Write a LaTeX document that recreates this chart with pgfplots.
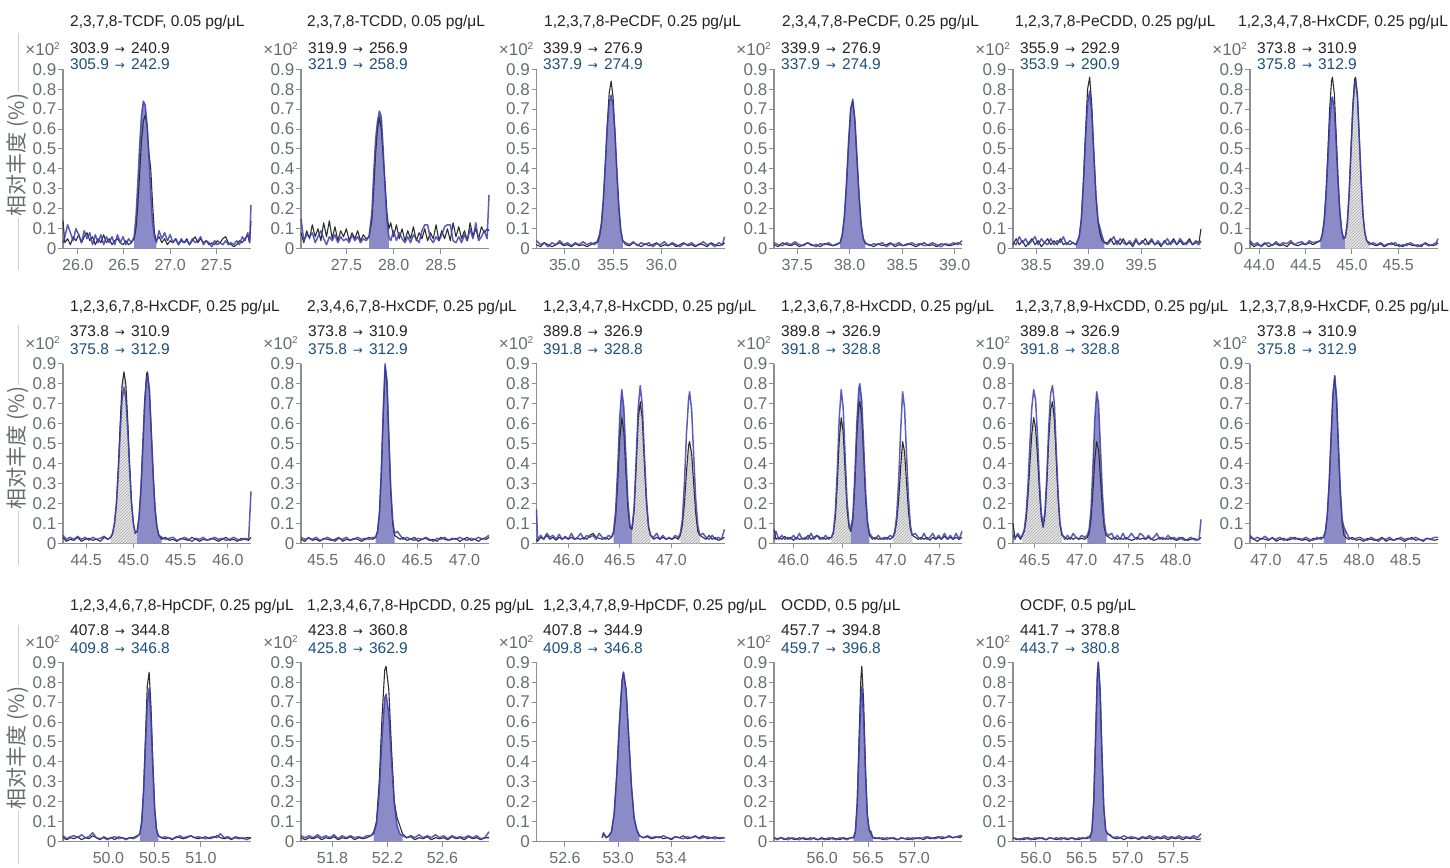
\documentclass[border=0pt]{standalone}
\usepackage{fontspec}
\setmainfont{Liberation Sans}
\newfontfamily\cjk{Noto Sans CJK SC}
\newfontfamily\arwfont{DejaVu Sans}
\usepackage{pgfplots}
\pgfplotsset{compat=1.18}
\usepackage{pgfplotstable}
\usetikzlibrary{patterns}
\definecolor{axgray}{HTML}{8C9096}
\definecolor{labgray}{HTML}{686C71}
\definecolor{tblue}{HTML}{1B4F7C}
\definecolor{tblack}{HTML}{222222}
\definecolor{bline}{HTML}{3F3FAE}
\definecolor{kline}{HTML}{2E2E2E}
\definecolor{pfill}{HTML}{8B8BC8}
\definecolor{hbg}{HTML}{E8E8E8}
\definecolor{hline}{HTML}{A8A8A8}
\definecolor{sepgray}{HTML}{CFCFCF}

\pgfplotsset{
  chrom/.style={
    scale only axis, width=188pt, height=179.5pt, anchor=south west,
    ymin=0, ymax=0.9,
    ytick={0,0.1,0.2,0.3,0.4,0.5,0.6,0.7,0.8,0.9},
    yticklabels={0,0.1,0.2,0.3,0.4,0.5,0.6,0.7,0.8,0.9},
    axis x line=bottom, axis y line=left,
    axis line style={-, axgray, line width=1.2pt},
    xtick pos=bottom, ytick pos=left,
    tick style={axgray, line width=1pt},
    major tick length=5pt,
    tick align=outside,
    clip=false,
    yticklabel style={font=\fontsize{17}{17}\selectfont, text=labgray, inner sep=1.5pt},
    xticklabel style={font=\fontsize{16}{16}\selectfont, text=labgray, inner sep=5.5pt},
  },
  kpl/.style={kline, line width=1.1pt, line join=round},
  bpl/.style={bline, line width=1.5pt, line join=round, opacity=0.85},
  pf/.style={fill=pfill, draw=none},
  hb/.style={fill=hbg, draw=none},
  hp/.style={pattern=north east lines, pattern color=hline, draw=none},
}

\newcommand\arr{\hspace{6pt}{\arwfont\fontsize{12}{12}\selectfont →}\hspace{6pt}}
\newcommand\ptitle[3]{\node[anchor=base west, inner sep=0pt, text=tblack, font=\fontsize{15.5}{15.5}\selectfont] at (#1pt,-#2pt) {#3};}
\newcommand\ptrans[5]{%
  \node[anchor=base west, inner sep=0pt, text=tblack, font=\fontsize{15.5}{15.5}\selectfont] at (#1pt,-#2pt) {#4};
  \node[anchor=base west, inner sep=0pt, text=tblue, font=\fontsize{15.5}{15.5}\selectfont] at (#1pt,-#3pt) {#5};}
\newcommand\pexp[2]{\node[anchor=base east, inner sep=0pt, text=labgray, font=\fontsize{17}{17}\selectfont] at (#1pt,-#2pt) {×10\raisebox{5.5pt}{\fontsize{10}{10}\selectfont 2}};}
\newcommand\ylab[1]{\node[rotate=90, fill=white, inner sep=2pt, text=labgray, font=\cjk\fontsize{21}{21}\selectfont] at (17.5pt,-#1pt) {相对丰度 (\%)};}

% ---------------- data: t = retention time (min), k = black trace, b = blue trace
\pgfplotstableread[row sep=\\]{
t k b\\
25.84 0.14 0.03\\ 25.86 0.03 0.06\\ 25.89 0.05 0.12\\ 25.92 0.02 0.08\\ 25.95 0.06 0.04\\
25.98 0.04 0.10\\ 26.01 0.07 0.07\\ 26.04 0.03 0.03\\ 26.07 0.06 0.09\\ 26.10 0.08 0.05\\
26.13 0.04 0.08\\ 26.16 0.06 0.02\\ 26.19 0.02 0.07\\ 26.22 0.05 0.03\\ 26.25 0.03 0.07\\
26.28 0.07 0.02\\ 26.31 0.03 0.06\\ 26.34 0.05 0.03\\ 26.37 0.02 0.06\\ 26.40 0.04 0.02\\
26.43 0.05 0.07\\ 26.46 0.03 0.03\\ 26.49 0.02 0.06\\ 26.52 0.04 0.02\\ 26.55 0.02 0.05\\
26.58 0.03 0.03\\ 26.61 0.05 0.06\\ 26.63 0.10 0.16\\ 26.65 0.22 0.33\\ 26.67 0.38 0.52\\
26.69 0.54 0.67\\ 26.71 0.64 0.74\\ 26.73 0.67 0.72\\ 26.75 0.62 0.62\\ 26.77 0.48 0.46\\
26.79 0.40 0.28\\ 26.81 0.22 0.13\\ 26.83 0.08 0.06\\ 26.85 0.04 0.03\\ 26.88 0.06 0.09\\
26.91 0.03 0.05\\ 26.94 0.05 0.08\\ 26.97 0.02 0.04\\ 27.00 0.04 0.07\\ 27.03 0.03 0.03\\
27.06 0.05 0.05\\ 27.09 0.02 0.02\\ 27.12 0.04 0.05\\ 27.15 0.03 0.03\\ 27.18 0.05 0.04\\
27.21 0.02 0.02\\ 27.24 0.04 0.05\\ 27.27 0.06 0.03\\ 27.30 0.03 0.04\\ 27.33 0.05 0.06\\
27.36 0.03 0.02\\ 27.39 0.04 0.04\\ 27.42 0.02 0.03\\ 27.45 0.03 0.01\\ 27.48 0.02 0.04\\
27.51 0.04 0.02\\ 27.54 0.03 0.03\\ 27.57 0.05 0.02\\ 27.60 0.06 0.04\\ 27.63 0.03 0.02\\
27.66 0.02 0.03\\ 27.69 0.01 0.02\\ 27.72 0.02 0.04\\ 27.75 0.04 0.02\\ 27.78 0.03 0.06\\
27.81 0.05 0.04\\ 27.84 0.07 0.08\\ 27.86 0.03 0.03\\ 27.875 0.14 0.22\\
}\tA
\pgfplotstableread[row sep=\\]{
t k b\\
27.02 0.08 0.15\\ 27.05 0.03 0.04\\ 27.08 0.09 0.07\\ 27.11 0.05 0.06\\ 27.14 0.12 0.08\\
27.17 0.06 0.03\\ 27.20 0.10 0.06\\ 27.23 0.04 0.09\\ 27.26 0.13 0.05\\ 27.29 0.06 0.02\\
27.32 0.14 0.06\\ 27.35 0.05 0.04\\ 27.38 0.11 0.07\\ 27.41 0.04 0.03\\ 27.44 0.09 0.06\\
27.47 0.06 0.04\\ 27.50 0.10 0.05\\ 27.53 0.04 0.03\\ 27.56 0.08 0.07\\ 27.59 0.05 0.04\\
27.62 0.09 0.06\\ 27.65 0.04 0.03\\ 27.68 0.07 0.05\\ 27.71 0.05 0.04\\ 27.74 0.06 0.06\\
27.77 0.14 0.18\\ 27.79 0.30 0.38\\ 27.81 0.48 0.55\\ 27.83 0.60 0.64\\ 27.85 0.66 0.69\\
27.87 0.60 0.66\\ 27.89 0.46 0.50\\ 27.91 0.33 0.30\\ 27.93 0.18 0.14\\ 27.95 0.10 0.06\\
27.97 0.13 0.04\\ 28.00 0.06 0.09\\ 28.03 0.12 0.04\\ 28.06 0.05 0.08\\ 28.09 0.10 0.05\\
28.12 0.04 0.03\\ 28.15 0.09 0.06\\ 28.18 0.05 0.03\\ 28.21 0.11 0.07\\ 28.24 0.04 0.05\\
28.27 0.08 0.03\\ 28.30 0.05 0.09\\ 28.33 0.10 0.12\\ 28.36 0.04 0.12\\ 28.39 0.08 0.05\\
28.42 0.05 0.03\\ 28.45 0.12 0.06\\ 28.48 0.04 0.04\\ 28.51 0.09 0.07\\ 28.54 0.05 0.11\\
28.57 0.10 0.12\\ 28.60 0.04 0.12\\ 28.63 0.13 0.04\\ 28.66 0.06 0.03\\ 28.69 0.11 0.06\\
28.72 0.05 0.03\\ 28.75 0.09 0.07\\ 28.78 0.04 0.04\\ 28.81 0.13 0.10\\ 28.84 0.06 0.05\\
28.87 0.10 0.13\\ 28.90 0.05 0.04\\ 28.93 0.11 0.06\\ 28.96 0.08 0.09\\ 28.99 0.10 0.05\\
29.01 0.09 0.27\\
}\tB
\pgfplotstableread[row sep=\\]{
t k b\\
34.71 0.02 0.04\\ 34.75 0.01 0.02\\ 34.79 0.03 0.03\\ 34.83 0.02 0.01\\ 34.87 0.01 0.03\\
34.91 0.02 0.02\\ 34.95 0.03 0.04\\ 34.99 0.015 0.02\\ 35.03 0.02 0.03\\ 35.07 0.01 0.015\\
35.11 0.025 0.03\\ 35.15 0.015 0.02\\ 35.19 0.02 0.035\\ 35.23 0.01 0.02\\ 35.27 0.02 0.03\\
35.31 0.03 0.02\\ 35.34 0.03 0.04\\ 35.36 0.06 0.07\\ 35.38 0.12 0.13\\ 35.40 0.24 0.25\\
35.42 0.42 0.43\\ 35.44 0.62 0.61\\ 35.46 0.78 0.73\\ 35.48 0.84 0.77\\ 35.50 0.76 0.72\\
35.52 0.58 0.58\\ 35.54 0.38 0.38\\ 35.56 0.20 0.21\\ 35.58 0.09 0.09\\ 35.60 0.04 0.04\\
35.63 0.02 0.03\\ 35.67 0.015 0.02\\ 35.71 0.03 0.035\\ 35.75 0.02 0.015\\ 35.79 0.01 0.03\\
35.83 0.025 0.02\\ 35.87 0.015 0.03\\ 35.91 0.02 0.01\\ 35.95 0.03 0.025\\ 35.99 0.01 0.02\\
36.03 0.02 0.035\\ 36.07 0.015 0.015\\ 36.11 0.025 0.03\\ 36.15 0.01 0.02\\ 36.19 0.02 0.01\\
36.23 0.03 0.025\\ 36.27 0.015 0.02\\ 36.31 0.02 0.03\\ 36.35 0.01 0.015\\ 36.39 0.025 0.02\\
36.43 0.02 0.035\\ 36.47 0.01 0.02\\ 36.51 0.03 0.025\\ 36.55 0.02 0.01\\ 36.59 0.015 0.03\\
36.63 0.02 0.02\\ 36.65 0.03 0.06\\
}\tC
\pgfplotstableread[row sep=\\]{
t k b\\
37.28 0.02 0.03\\ 37.32 0.01 0.02\\ 37.36 0.03 0.015\\ 37.40 0.02 0.03\\ 37.44 0.015 0.02\\
37.48 0.025 0.035\\ 37.52 0.01 0.02\\ 37.56 0.02 0.015\\ 37.60 0.03 0.03\\ 37.64 0.015 0.02\\
37.68 0.02 0.01\\ 37.72 0.01 0.025\\ 37.76 0.025 0.02\\ 37.80 0.02 0.03\\ 37.84 0.015 0.015\\
37.88 0.02 0.025\\ 37.91 0.03 0.03\\ 37.93 0.07 0.07\\ 37.95 0.16 0.16\\ 37.97 0.32 0.33\\
37.99 0.52 0.54\\ 38.01 0.70 0.70\\ 38.03 0.74 0.75\\ 38.05 0.64 0.65\\ 38.07 0.45 0.46\\
38.09 0.26 0.27\\ 38.11 0.12 0.12\\ 38.13 0.05 0.05\\ 38.15 0.025 0.03\\ 38.19 0.02 0.015\\
38.23 0.01 0.025\\ 38.27 0.025 0.02\\ 38.31 0.015 0.03\\ 38.35 0.02 0.01\\ 38.39 0.03 0.025\\
38.43 0.01 0.02\\ 38.47 0.02 0.03\\ 38.51 0.015 0.015\\ 38.55 0.025 0.02\\ 38.59 0.02 0.03\\
38.63 0.01 0.02\\ 38.67 0.02 0.025\\ 38.71 0.03 0.015\\ 38.75 0.015 0.02\\ 38.79 0.02 0.03\\
38.83 0.01 0.02\\ 38.87 0.025 0.01\\ 38.91 0.02 0.025\\ 38.95 0.015 0.02\\ 38.99 0.02 0.03\\
39.03 0.03 0.02\\ 39.07 0.02 0.04\\
}\tD
\pgfplotstableread[row sep=\\]{
t k b\\
38.28 0.02 0.03\\ 38.31 0.05 0.02\\ 38.34 0.02 0.06\\ 38.37 0.04 0.03\\ 38.40 0.01 0.05\\
38.43 0.03 0.02\\ 38.46 0.05 0.04\\ 38.49 0.02 0.06\\ 38.52 0.04 0.02\\ 38.55 0.01 0.05\\
38.58 0.03 0.03\\ 38.61 0.05 0.02\\ 38.64 0.02 0.05\\ 38.67 0.04 0.02\\ 38.70 0.02 0.04\\
38.73 0.05 0.03\\ 38.76 0.02 0.06\\ 38.79 0.03 0.02\\ 38.82 0.02 0.04\\ 38.85 0.03 0.03\\
38.88 0.02 0.02\\ 38.91 0.06 0.06\\ 38.93 0.15 0.14\\ 38.95 0.34 0.32\\ 38.97 0.58 0.55\\
38.99 0.80 0.73\\ 39.01 0.86 0.79\\ 39.03 0.72 0.68\\ 39.05 0.48 0.47\\ 39.07 0.26 0.27\\
39.09 0.13 0.14\\ 39.11 0.07 0.10\\ 39.13 0.04 0.06\\ 39.15 0.03 0.03\\ 39.18 0.03 0.02\\
39.21 0.05 0.04\\ 39.24 0.02 0.06\\ 39.27 0.04 0.02\\ 39.30 0.02 0.05\\ 39.33 0.05 0.03\\
39.36 0.02 0.02\\ 39.39 0.03 0.04\\ 39.42 0.01 0.02\\ 39.45 0.04 0.05\\ 39.48 0.02 0.02\\
39.51 0.03 0.04\\ 39.54 0.05 0.02\\ 39.57 0.02 0.03\\ 39.60 0.04 0.05\\ 39.63 0.02 0.02\\
39.66 0.03 0.04\\ 39.69 0.01 0.02\\ 39.72 0.04 0.03\\ 39.75 0.02 0.05\\ 39.78 0.03 0.02\\
39.81 0.05 0.04\\ 39.84 0.02 0.02\\ 39.87 0.04 0.05\\ 39.90 0.02 0.03\\ 39.93 0.03 0.02\\
39.96 0.05 0.04\\ 39.99 0.02 0.02\\ 40.02 0.04 0.03\\ 40.05 0.03 0.02\\ 40.07 0.10 0.04\\
}\tE
\pgfplotstableread[row sep=\\]{
t k b\\
43.90 0.03 0.04\\ 43.94 0.01 0.02\\ 43.98 0.02 0.03\\ 44.02 0.015 0.01\\ 44.06 0.03 0.025\\
44.10 0.01 0.03\\ 44.14 0.02 0.015\\ 44.18 0.025 0.035\\ 44.22 0.015 0.02\\ 44.26 0.02 0.03\\
44.30 0.01 0.025\\ 44.34 0.03 0.04\\ 44.38 0.02 0.02\\ 44.42 0.015 0.03\\ 44.46 0.025 0.035\\
44.50 0.02 0.02\\ 44.54 0.03 0.04\\ 44.58 0.02 0.03\\ 44.62 0.03 0.035\\ 44.66 0.04 0.04\\
44.68 0.07 0.07\\ 44.70 0.14 0.13\\ 44.72 0.28 0.26\\ 44.74 0.48 0.44\\ 44.76 0.70 0.63\\
44.78 0.84 0.75\\ 44.79 0.86 0.76\\ 44.81 0.78 0.70\\ 44.83 0.58 0.53\\ 44.85 0.36 0.34\\
44.87 0.19 0.18\\ 44.89 0.09 0.09\\ 44.91 0.05 0.05\\ 44.93 0.06 0.06\\ 44.95 0.13 0.12\\
44.97 0.28 0.27\\ 44.99 0.50 0.48\\ 45.01 0.72 0.70\\ 45.03 0.85 0.83\\ 45.04 0.86 0.84\\
45.06 0.77 0.76\\ 45.08 0.56 0.55\\ 45.10 0.34 0.34\\ 45.12 0.17 0.17\\ 45.14 0.08 0.08\\
45.16 0.04 0.04\\ 45.19 0.03 0.02\\ 45.23 0.02 0.03\\ 45.27 0.015 0.02\\ 45.31 0.025 0.03\\
45.35 0.01 0.015\\ 45.39 0.02 0.025\\ 45.43 0.03 0.02\\ 45.47 0.015 0.03\\ 45.51 0.02 0.01\\
45.55 0.01 0.02\\ 45.59 0.025 0.015\\ 45.63 0.02 0.03\\ 45.67 0.015 0.02\\ 45.71 0.02 0.01\\
45.75 0.01 0.02\\ 45.79 0.03 0.025\\ 45.83 0.02 0.015\\ 45.87 0.015 0.02\\ 45.91 0.02 0.03\\
45.93 0.03 0.05\\
}\tF
\pgfplotstableread[row sep=\\]{
t k b\\
44.255 0.03 0.04\\ 44.29 0.01 0.02\\ 44.33 0.02 0.03\\ 44.37 0.015 0.02\\ 44.41 0.03 0.035\\
44.45 0.01 0.02\\ 44.49 0.02 0.03\\ 44.53 0.025 0.015\\ 44.57 0.015 0.03\\ 44.61 0.02 0.02\\
44.65 0.01 0.025\\ 44.69 0.03 0.035\\ 44.73 0.02 0.02\\ 44.76 0.03 0.03\\ 44.78 0.05 0.05\\
44.80 0.10 0.10\\ 44.82 0.20 0.19\\ 44.84 0.38 0.35\\ 44.86 0.60 0.55\\ 44.88 0.79 0.72\\
44.90 0.86 0.78\\ 44.92 0.80 0.73\\ 44.94 0.62 0.57\\ 44.96 0.40 0.37\\ 44.98 0.21 0.20\\
45.00 0.10 0.10\\ 45.02 0.05 0.05\\ 45.04 0.06 0.06\\ 45.06 0.13 0.13\\ 45.08 0.28 0.27\\
45.10 0.50 0.48\\ 45.12 0.72 0.70\\ 45.14 0.85 0.83\\ 45.15 0.86 0.84\\ 45.17 0.77 0.76\\
45.19 0.56 0.55\\ 45.21 0.34 0.34\\ 45.23 0.17 0.17\\ 45.25 0.08 0.08\\ 45.27 0.04 0.04\\
45.30 0.02 0.03\\ 45.34 0.03 0.02\\ 45.38 0.015 0.025\\ 45.42 0.02 0.03\\ 45.46 0.01 0.015\\
45.50 0.025 0.02\\ 45.54 0.02 0.03\\ 45.58 0.015 0.02\\ 45.62 0.03 0.01\\ 45.66 0.02 0.025\\
45.70 0.01 0.02\\ 45.74 0.02 0.03\\ 45.78 0.015 0.015\\ 45.82 0.025 0.02\\ 45.86 0.02 0.03\\
45.90 0.01 0.02\\ 45.94 0.02 0.025\\ 45.98 0.03 0.015\\ 46.02 0.015 0.02\\ 46.06 0.02 0.03\\
46.10 0.01 0.02\\ 46.14 0.025 0.015\\ 46.18 0.02 0.025\\ 46.22 0.015 0.02\\ 46.245 0.03 0.26\\
}\tG
\pgfplotstableread[row sep=\\]{
t k b\\
45.27 0.02 0.03\\ 45.31 0.01 0.02\\ 45.35 0.03 0.025\\ 45.39 0.015 0.02\\ 45.43 0.02 0.03\\
45.47 0.01 0.015\\ 45.51 0.025 0.02\\ 45.55 0.02 0.03\\ 45.59 0.015 0.02\\ 45.63 0.02 0.01\\
45.67 0.03 0.025\\ 45.71 0.01 0.02\\ 45.75 0.02 0.03\\ 45.79 0.015 0.015\\ 45.83 0.025 0.02\\
45.87 0.02 0.03\\ 45.91 0.01 0.02\\ 45.95 0.02 0.025\\ 45.99 0.03 0.02\\ 46.03 0.02 0.03\\
46.06 0.03 0.03\\ 46.08 0.06 0.06\\ 46.10 0.15 0.15\\ 46.12 0.35 0.36\\ 46.14 0.64 0.66\\
46.16 0.88 0.90\\ 46.18 0.80 0.82\\ 46.20 0.52 0.54\\ 46.22 0.26 0.28\\ 46.24 0.10 0.12\\
46.26 0.04 0.05\\ 46.29 0.03 0.06\\ 46.32 0.02 0.04\\ 46.35 0.03 0.02\\ 46.39 0.015 0.03\\
46.43 0.02 0.02\\ 46.47 0.03 0.015\\ 46.51 0.01 0.025\\ 46.55 0.02 0.02\\ 46.59 0.025 0.03\\
46.63 0.015 0.02\\ 46.67 0.02 0.01\\ 46.71 0.01 0.025\\ 46.75 0.03 0.02\\ 46.79 0.02 0.03\\
46.83 0.015 0.015\\ 46.87 0.02 0.025\\ 46.91 0.025 0.02\\ 46.95 0.01 0.03\\ 46.99 0.02 0.02\\
47.03 0.03 0.015\\ 47.07 0.015 0.025\\ 47.11 0.02 0.02\\ 47.15 0.01 0.03\\ 47.19 0.025 0.02\\
47.23 0.02 0.03\\ 47.26 0.03 0.04\\
}\tH
\pgfplotstableread[row sep=\\]{
t k b\\
45.69 0.02 0.17\\ 45.70 0.01 0.02\\ 45.73 0.03 0.04\\ 45.76 0.02 0.02\\ 45.79 0.04 0.05\\
45.82 0.02 0.03\\ 45.85 0.03 0.04\\ 45.88 0.015 0.02\\ 45.91 0.03 0.045\\ 45.94 0.02 0.02\\
45.97 0.035 0.03\\ 46.00 0.02 0.02\\ 46.03 0.03 0.05\\ 46.06 0.02 0.02\\ 46.09 0.025 0.03\\
46.12 0.02 0.05\\ 46.15 0.03 0.02\\ 46.18 0.02 0.04\\ 46.21 0.04 0.03\\ 46.24 0.05 0.04\\
46.27 0.03 0.02\\ 46.30 0.025 0.05\\ 46.33 0.02 0.03\\ 46.36 0.03 0.02\\ 46.39 0.02 0.04\\
46.42 0.03 0.03\\ 46.44 0.05 0.06\\ 46.46 0.13 0.16\\ 46.48 0.30 0.37\\ 46.50 0.52 0.63\\
46.52 0.63 0.77\\ 46.54 0.56 0.68\\ 46.56 0.36 0.44\\ 46.58 0.17 0.21\\ 46.60 0.08 0.09\\
46.62 0.07 0.08\\ 46.64 0.16 0.18\\ 46.66 0.38 0.42\\ 46.68 0.62 0.68\\ 46.70 0.71 0.79\\
46.72 0.62 0.69\\ 46.74 0.40 0.45\\ 46.76 0.20 0.23\\ 46.78 0.08 0.09\\ 46.80 0.04 0.04\\
46.83 0.02 0.03\\ 46.86 0.03 0.05\\ 46.89 0.02 0.02\\ 46.92 0.03 0.04\\ 46.95 0.02 0.02\\
46.98 0.025 0.03\\ 47.01 0.02 0.02\\ 47.04 0.03 0.04\\ 47.07 0.02 0.03\\ 47.09 0.04 0.05\\
47.11 0.09 0.12\\ 47.13 0.20 0.30\\ 47.15 0.36 0.55\\ 47.17 0.49 0.72\\ 47.18 0.51 0.76\\
47.20 0.45 0.67\\ 47.22 0.30 0.44\\ 47.24 0.15 0.22\\ 47.26 0.06 0.09\\ 47.28 0.04 0.04\\
47.31 0.03 0.05\\ 47.34 0.02 0.03\\ 47.37 0.04 0.02\\ 47.40 0.02 0.04\\ 47.43 0.03 0.02\\
47.46 0.015 0.03\\ 47.49 0.02 0.02\\ 47.52 0.03 0.07\\
}\tI
\pgfplotstableread[row sep=\\]{
t k b\\
45.80 0.07 0.02\\ 45.82 0.02 0.06\\ 45.85 0.03 0.02\\ 45.88 0.02 0.04\\ 45.91 0.035 0.02\\
45.94 0.02 0.03\\ 45.97 0.03 0.02\\ 46.00 0.015 0.04\\ 46.03 0.03 0.02\\ 46.06 0.02 0.05\\
46.09 0.025 0.02\\ 46.12 0.02 0.03\\ 46.15 0.04 0.02\\ 46.18 0.02 0.05\\ 46.21 0.03 0.02\\
46.24 0.04 0.04\\ 46.27 0.02 0.03\\ 46.30 0.03 0.02\\ 46.33 0.02 0.04\\ 46.36 0.03 0.02\\
46.39 0.03 0.03\\ 46.41 0.05 0.06\\ 46.43 0.13 0.16\\ 46.45 0.30 0.37\\ 46.47 0.52 0.63\\
46.49 0.63 0.77\\ 46.51 0.56 0.68\\ 46.53 0.36 0.44\\ 46.55 0.17 0.21\\ 46.57 0.08 0.10\\
46.59 0.06 0.07\\ 46.61 0.12 0.14\\ 46.63 0.30 0.34\\ 46.65 0.54 0.60\\ 46.67 0.69 0.77\\
46.68 0.71 0.80\\ 46.70 0.64 0.72\\ 46.72 0.44 0.50\\ 46.74 0.23 0.26\\ 46.76 0.10 0.11\\
46.78 0.04 0.05\\ 46.81 0.02 0.03\\ 46.84 0.03 0.02\\ 46.87 0.02 0.04\\ 46.90 0.025 0.02\\
46.93 0.02 0.03\\ 46.96 0.03 0.02\\ 46.99 0.02 0.04\\ 47.02 0.03 0.03\\ 47.04 0.05 0.06\\
47.06 0.11 0.14\\ 47.08 0.22 0.32\\ 47.10 0.38 0.56\\ 47.12 0.51 0.76\\ 47.14 0.46 0.68\\
47.16 0.31 0.45\\ 47.18 0.16 0.23\\ 47.20 0.07 0.09\\ 47.22 0.04 0.04\\ 47.25 0.03 0.05\\
47.28 0.02 0.03\\ 47.31 0.03 0.02\\ 47.34 0.02 0.05\\ 47.37 0.03 0.02\\ 47.40 0.015 0.03\\
47.43 0.03 0.05\\ 47.46 0.02 0.02\\ 47.49 0.03 0.04\\ 47.52 0.02 0.02\\ 47.55 0.035 0.05\\
47.58 0.02 0.02\\ 47.61 0.03 0.04\\ 47.64 0.02 0.02\\ 47.67 0.03 0.05\\ 47.70 0.02 0.02\\
47.73 0.03 0.06\\
}\tJ
\pgfplotstableread[row sep=\\]{
t k b\\
46.27 0.10 0.04\\ 46.29 0.03 0.02\\ 46.32 0.04 0.05\\ 46.35 0.02 0.03\\ 46.37 0.04 0.04\\
46.39 0.06 0.07\\ 46.41 0.12 0.15\\ 46.43 0.24 0.30\\ 46.45 0.40 0.50\\ 46.47 0.55 0.68\\
46.49 0.63 0.77\\ 46.51 0.58 0.72\\ 46.53 0.44 0.54\\ 46.55 0.27 0.32\\ 46.57 0.13 0.16\\
46.59 0.08 0.09\\ 46.61 0.14 0.16\\ 46.63 0.30 0.34\\ 46.65 0.52 0.58\\ 46.67 0.67 0.75\\
46.69 0.71 0.79\\ 46.71 0.62 0.70\\ 46.73 0.42 0.47\\ 46.75 0.22 0.25\\ 46.77 0.09 0.10\\
46.79 0.04 0.05\\ 46.82 0.03 0.02\\ 46.85 0.02 0.04\\ 46.88 0.03 0.02\\ 46.91 0.02 0.05\\
46.94 0.03 0.03\\ 46.97 0.02 0.02\\ 47.00 0.025 0.04\\ 47.03 0.02 0.03\\ 47.06 0.03 0.04\\
47.08 0.05 0.07\\ 47.10 0.12 0.17\\ 47.12 0.26 0.38\\ 47.14 0.42 0.62\\ 47.16 0.51 0.76\\
47.18 0.47 0.70\\ 47.20 0.33 0.48\\ 47.22 0.18 0.26\\ 47.24 0.08 0.11\\ 47.26 0.04 0.05\\
47.29 0.03 0.04\\ 47.32 0.02 0.05\\ 47.35 0.03 0.02\\ 47.38 0.02 0.04\\ 47.41 0.025 0.02\\
47.44 0.02 0.05\\ 47.47 0.03 0.02\\ 47.50 0.02 0.03\\ 47.53 0.015 0.05\\ 47.56 0.02 0.03\\
47.59 0.03 0.02\\ 47.62 0.02 0.05\\ 47.65 0.025 0.04\\ 47.68 0.02 0.02\\ 47.71 0.03 0.04\\
47.74 0.02 0.02\\ 47.77 0.015 0.03\\ 47.80 0.02 0.05\\ 47.83 0.03 0.02\\ 47.86 0.02 0.03\\
47.89 0.025 0.02\\ 47.92 0.02 0.04\\ 47.95 0.03 0.02\\ 47.98 0.02 0.03\\ 48.01 0.015 0.02\\
48.04 0.02 0.03\\ 48.07 0.03 0.02\\ 48.10 0.02 0.015\\ 48.13 0.015 0.02\\ 48.16 0.02 0.03\\
48.19 0.025 0.02\\ 48.22 0.02 0.015\\ 48.25 0.02 0.02\\ 48.27 0.03 0.12\\
}\tK
\pgfplotstableread[row sep=\\]{
t k b\\
46.83 0.03 0.04\\ 46.87 0.02 0.02\\ 46.91 0.01 0.03\\ 46.95 0.025 0.02\\ 46.99 0.02 0.035\\
47.03 0.015 0.02\\ 47.07 0.03 0.025\\ 47.11 0.01 0.02\\ 47.15 0.02 0.03\\ 47.19 0.025 0.015\\
47.23 0.015 0.02\\ 47.27 0.02 0.03\\ 47.31 0.03 0.02\\ 47.35 0.02 0.025\\ 47.39 0.015 0.02\\
47.43 0.02 0.03\\ 47.47 0.01 0.02\\ 47.51 0.025 0.015\\ 47.55 0.02 0.03\\ 47.59 0.03 0.02\\
47.62 0.03 0.03\\ 47.64 0.06 0.06\\ 47.66 0.14 0.14\\ 47.68 0.30 0.30\\ 47.70 0.52 0.52\\
47.72 0.74 0.74\\ 47.74 0.84 0.84\\ 47.76 0.72 0.73\\ 47.78 0.48 0.49\\ 47.80 0.25 0.27\\
47.82 0.10 0.12\\ 47.84 0.04 0.08\\ 47.86 0.03 0.06\\ 47.89 0.02 0.03\\ 47.93 0.03 0.02\\
47.97 0.015 0.025\\ 48.01 0.02 0.03\\ 48.05 0.01 0.02\\ 48.09 0.025 0.015\\ 48.13 0.02 0.03\\
48.17 0.015 0.02\\ 48.21 0.02 0.01\\ 48.25 0.03 0.025\\ 48.29 0.01 0.02\\ 48.33 0.02 0.03\\
48.37 0.015 0.015\\ 48.41 0.025 0.02\\ 48.45 0.02 0.03\\ 48.49 0.01 0.02\\ 48.53 0.02 0.025\\
48.57 0.03 0.02\\ 48.61 0.015 0.03\\ 48.65 0.02 0.02\\ 48.69 0.01 0.015\\ 48.73 0.025 0.025\\
48.77 0.02 0.02\\ 48.81 0.015 0.03\\ 48.85 0.02 0.03\\
}\tL
\pgfplotstableread[row sep=\\]{
t k b\\
49.51 0.02 0.03\\ 49.55 0.01 0.015\\ 49.59 0.02 0.025\\ 49.63 0.015 0.03\\ 49.67 0.025 0.02\\
49.71 0.01 0.035\\ 49.75 0.02 0.02\\ 49.79 0.015 0.025\\ 49.83 0.03 0.045\\ 49.87 0.02 0.02\\
49.91 0.01 0.015\\ 49.95 0.025 0.02\\ 49.99 0.015 0.01\\ 50.03 0.02 0.02\\ 50.07 0.01 0.025\\
50.11 0.025 0.015\\ 50.15 0.02 0.02\\ 50.19 0.015 0.01\\ 50.23 0.02 0.02\\ 50.27 0.02 0.015\\
50.31 0.03 0.025\\ 50.34 0.04 0.04\\ 50.36 0.10 0.10\\ 50.38 0.26 0.25\\ 50.40 0.52 0.48\\
50.42 0.78 0.70\\ 50.44 0.85 0.77\\ 50.46 0.68 0.62\\ 50.48 0.40 0.37\\ 50.50 0.17 0.16\\
50.52 0.06 0.06\\ 50.54 0.03 0.03\\ 50.57 0.02 0.02\\ 50.61 0.015 0.025\\ 50.65 0.02 0.02\\
50.69 0.01 0.015\\ 50.73 0.025 0.02\\ 50.77 0.02 0.03\\ 50.81 0.015 0.02\\ 50.85 0.02 0.025\\
50.89 0.03 0.03\\ 50.93 0.02 0.02\\ 50.97 0.015 0.025\\ 51.01 0.02 0.02\\ 51.05 0.025 0.015\\
51.09 0.015 0.02\\ 51.13 0.02 0.025\\ 51.17 0.03 0.02\\ 51.21 0.02 0.04\\ 51.25 0.015 0.02\\
51.29 0.02 0.025\\ 51.33 0.01 0.015\\ 51.37 0.025 0.02\\ 51.41 0.02 0.015\\ 51.45 0.015 0.02\\
51.49 0.02 0.01\\ 51.54 0.02 0.02\\
}\tM
\pgfplotstableread[row sep=\\]{
t k b\\
51.57 0.02 0.03\\ 51.60 0.01 0.02\\ 51.63 0.02 0.03\\ 51.66 0.015 0.02\\ 51.69 0.025 0.035\\
51.72 0.01 0.02\\ 51.75 0.02 0.03\\ 51.78 0.015 0.02\\ 51.81 0.025 0.035\\ 51.84 0.01 0.015\\
51.87 0.02 0.03\\ 51.90 0.015 0.02\\ 51.93 0.025 0.03\\ 51.96 0.01 0.02\\ 51.99 0.02 0.025\\
52.02 0.015 0.02\\ 52.05 0.02 0.03\\ 52.08 0.03 0.03\\ 52.10 0.05 0.04\\ 52.12 0.10 0.09\\
52.14 0.30 0.25\\ 52.16 0.62 0.52\\ 52.18 0.86 0.72\\ 52.19 0.88 0.74\\ 52.21 0.76 0.64\\
52.23 0.46 0.40\\ 52.25 0.20 0.19\\ 52.27 0.12 0.08\\ 52.29 0.08 0.04\\ 52.31 0.04 0.03\\
52.34 0.02 0.02\\ 52.37 0.025 0.03\\ 52.40 0.01 0.02\\ 52.43 0.02 0.035\\ 52.46 0.015 0.02\\
52.49 0.025 0.03\\ 52.52 0.01 0.02\\ 52.55 0.02 0.035\\ 52.58 0.015 0.02\\ 52.61 0.02 0.03\\
52.64 0.01 0.015\\ 52.67 0.025 0.03\\ 52.70 0.015 0.02\\ 52.73 0.02 0.025\\ 52.76 0.01 0.02\\
52.79 0.025 0.03\\ 52.82 0.015 0.02\\ 52.85 0.02 0.03\\ 52.88 0.01 0.015\\ 52.91 0.02 0.02\\
52.94 0.02 0.05\\
}\tN
\pgfplotstableread[row sep=\\]{
t k b\\
52.88 0.02 0.02\\ 52.89 0.04 0.045\\ 52.91 0.02 0.02\\ 52.93 0.03 0.03\\ 52.95 0.05 0.05\\
52.97 0.14 0.14\\ 52.99 0.34 0.34\\ 53.01 0.60 0.60\\ 53.03 0.81 0.81\\ 53.04 0.85 0.85\\
53.06 0.76 0.76\\ 53.08 0.52 0.52\\ 53.10 0.28 0.28\\ 53.12 0.12 0.12\\ 53.14 0.06 0.06\\
53.16 0.03 0.03\\ 53.19 0.02 0.02\\ 53.22 0.025 0.03\\ 53.25 0.015 0.02\\ 53.28 0.02 0.025\\
53.31 0.025 0.02\\ 53.34 0.015 0.03\\ 53.37 0.02 0.02\\ 53.40 0.01 0.015\\ 53.43 0.025 0.025\\
53.46 0.02 0.02\\ 53.49 0.03 0.015\\ 53.52 0.015 0.025\\ 53.55 0.02 0.02\\ 53.58 0.025 0.03\\
53.61 0.02 0.015\\ 53.64 0.03 0.02\\ 53.67 0.015 0.025\\ 53.70 0.02 0.02\\ 53.73 0.025 0.015\\
53.76 0.015 0.02\\ 53.80 0.02 0.02\\
}\tO
\pgfplotstableread[row sep=\\]{
t k b\\
55.475 0.02 0.02\\ 55.51 0.015 0.01\\ 55.55 0.02 0.02\\ 55.59 0.01 0.015\\ 55.63 0.02 0.01\\
55.67 0.015 0.02\\ 55.71 0.01 0.015\\ 55.75 0.02 0.01\\ 55.79 0.015 0.02\\ 55.83 0.01 0.015\\
55.87 0.02 0.01\\ 55.91 0.015 0.02\\ 55.95 0.01 0.01\\ 55.99 0.02 0.015\\ 56.03 0.015 0.01\\
56.07 0.01 0.02\\ 56.11 0.02 0.015\\ 56.15 0.015 0.01\\ 56.19 0.01 0.02\\ 56.23 0.02 0.015\\
56.27 0.015 0.01\\ 56.31 0.02 0.02\\ 56.34 0.02 0.02\\ 56.36 0.05 0.05\\ 56.38 0.20 0.18\\
56.40 0.52 0.46\\ 56.42 0.82 0.73\\ 56.43 0.88 0.78\\ 56.45 0.70 0.62\\ 56.47 0.38 0.34\\
56.49 0.14 0.13\\ 56.51 0.06 0.06\\ 56.53 0.04 0.05\\ 56.55 0.02 0.02\\ 56.58 0.015 0.02\\
56.62 0.02 0.015\\ 56.66 0.01 0.02\\ 56.70 0.02 0.01\\ 56.74 0.015 0.02\\ 56.78 0.02 0.015\\
56.82 0.01 0.01\\ 56.86 0.02 0.02\\ 56.90 0.015 0.015\\ 56.94 0.01 0.02\\ 56.98 0.02 0.01\\
57.02 0.015 0.02\\ 57.06 0.02 0.015\\ 57.10 0.01 0.02\\ 57.14 0.02 0.025\\ 57.18 0.015 0.02\\
57.22 0.02 0.015\\ 57.26 0.025 0.02\\ 57.30 0.015 0.025\\ 57.34 0.02 0.02\\ 57.38 0.025 0.03\\
57.42 0.02 0.02\\ 57.46 0.025 0.025\\ 57.50 0.02 0.03\\ 57.52 0.03 0.03\\
}\tP
\pgfplotstableread[row sep=\\]{
t k b\\
55.75 0.02 0.02\\ 55.79 0.01 0.015\\ 55.83 0.015 0.01\\ 55.87 0.01 0.02\\ 55.91 0.02 0.015\\
55.95 0.015 0.01\\ 55.99 0.01 0.02\\ 56.03 0.02 0.015\\ 56.07 0.015 0.02\\ 56.11 0.01 0.01\\
56.15 0.02 0.02\\ 56.19 0.015 0.015\\ 56.23 0.01 0.02\\ 56.27 0.02 0.01\\ 56.31 0.015 0.02\\
56.35 0.01 0.015\\ 56.39 0.02 0.02\\ 56.43 0.015 0.01\\ 56.47 0.01 0.02\\ 56.51 0.02 0.015\\
56.55 0.015 0.02\\ 56.59 0.02 0.03\\ 56.61 0.05 0.05\\ 56.63 0.20 0.20\\ 56.65 0.52 0.52\\
56.67 0.84 0.84\\ 56.68 0.90 0.90\\ 56.70 0.76 0.76\\ 56.72 0.44 0.44\\ 56.74 0.17 0.17\\
56.76 0.06 0.06\\ 56.78 0.04 0.04\\ 56.81 0.03 0.035\\ 56.84 0.02 0.02\\ 56.88 0.015 0.025\\
56.92 0.02 0.02\\ 56.96 0.01 0.03\\ 57.00 0.02 0.02\\ 57.04 0.015 0.025\\ 57.08 0.02 0.02\\
57.12 0.01 0.015\\ 57.16 0.02 0.025\\ 57.20 0.015 0.02\\ 57.24 0.02 0.03\\ 57.28 0.01 0.02\\
57.32 0.02 0.025\\ 57.36 0.015 0.02\\ 57.40 0.02 0.03\\ 57.44 0.01 0.02\\ 57.48 0.02 0.025\\
57.52 0.015 0.02\\ 57.56 0.02 0.03\\ 57.60 0.01 0.02\\ 57.64 0.02 0.025\\ 57.68 0.015 0.02\\
57.72 0.02 0.03\\ 57.76 0.01 0.02\\ 57.80 0.015 0.04\\
}\tQ

\begin{document}
\begin{tikzpicture}
\path[use as bounding box] (0pt,0pt) rectangle (1450pt,-867pt);

% separators and y labels
\draw[sepgray, line width=1pt] (18pt,-33pt) -- (18pt,-270pt);
\draw[sepgray, line width=1pt] (18pt,-325pt) -- (18pt,-565pt);
\draw[sepgray, line width=1pt] (18pt,-625pt) -- (18pt,-864pt);
\ylab{155}\ylab{448}\ylab{748}

% ================= ROW 1 =================
\begin{axis}[chrom, at={(63pt,-248.7pt)}, xmin=25.84, xmax=27.875,
  xtick={26,26.5,27,27.5}, xticklabels={26.0,26.5,27.0,27.5}]
\addplot[pf, restrict x to domain=26.61:26.85] table[x=t,y=b]{\tA} \closedcycle;
\addplot[kpl] table[x=t,y=k]{\tA};
\addplot[bpl] table[x=t,y=b]{\tA};
\end{axis}
\begin{axis}[chrom, at={(301pt,-248.7pt)}, xmin=27.02, xmax=29.01,
  xtick={27.5,28,28.5}, xticklabels={27.5,28.0,28.5}]
\addplot[pf, restrict x to domain=27.74:27.95] table[x=t,y=b]{\tB} \closedcycle;
\addplot[kpl] table[x=t,y=k]{\tB};
\addplot[bpl] table[x=t,y=b]{\tB};
\end{axis}
\begin{axis}[chrom, at={(536.5pt,-248.7pt)}, xmin=34.71, xmax=36.65,
  xtick={35,35.5,36}, xticklabels={35.0,35.5,36.0}]
\addplot[pf, restrict x to domain=35.34:35.60] table[x=t,y=b]{\tC} \closedcycle;
\addplot[kpl] table[x=t,y=k]{\tC};
\addplot[bpl] table[x=t,y=b]{\tC};
\end{axis}
\begin{axis}[chrom, at={(774pt,-248.7pt)}, xmin=37.28, xmax=39.07,
  xtick={37.5,38,38.5,39}, xticklabels={37.5,38.0,38.5,39.0}]
\addplot[pf, restrict x to domain=37.91:38.15] table[x=t,y=b]{\tD} \closedcycle;
\addplot[kpl] table[x=t,y=k]{\tD};
\addplot[bpl] table[x=t,y=b]{\tD};
\end{axis}
\begin{axis}[chrom, at={(1013pt,-248.7pt)}, xmin=38.28, xmax=40.07,
  xtick={38.5,39,39.5}, xticklabels={38.5,39.0,39.5}]
\addplot[pf, restrict x to domain=38.88:39.15] table[x=t,y=b]{\tE} \closedcycle;
\addplot[kpl] table[x=t,y=k]{\tE};
\addplot[bpl] table[x=t,y=b]{\tE};
\end{axis}
\begin{axis}[chrom, at={(1250pt,-248.7pt)}, xmin=43.90, xmax=45.93,
  xtick={44,44.5,45,45.5}, xticklabels={44.0,44.5,45.0,45.5}]
\addplot[pf, restrict x to domain=44.66:44.93] table[x=t,y=b]{\tF} \closedcycle;
\addplot[hb, restrict x to domain=44.93:45.19] table[x=t,y=k]{\tF} \closedcycle;
\addplot[hp, restrict x to domain=44.93:45.19] table[x=t,y=k]{\tF} \closedcycle;
\addplot[kpl] table[x=t,y=k]{\tF};
\addplot[bpl] table[x=t,y=b]{\tF};
\end{axis}

% ================= ROW 2 =================
\begin{axis}[chrom, at={(63pt,-543.3pt)}, xmin=44.255, xmax=46.245,
  xtick={44.5,45,45.5,46}, xticklabels={44.5,45.0,45.5,46.0}]
\addplot[hb, restrict x to domain=44.76:45.04] table[x=t,y=k]{\tG} \closedcycle;
\addplot[hp, restrict x to domain=44.76:45.04] table[x=t,y=k]{\tG} \closedcycle;
\addplot[pf, restrict x to domain=45.04:45.30] table[x=t,y=b]{\tG} \closedcycle;
\addplot[kpl] table[x=t,y=k]{\tG};
\addplot[bpl] table[x=t,y=b]{\tG};
\end{axis}
\begin{axis}[chrom, at={(301pt,-543.3pt)}, xmin=45.27, xmax=47.26,
  xtick={45.5,46,46.5,47}, xticklabels={45.5,46.0,46.5,47.0}]
\addplot[pf, restrict x to domain=46.06:46.26] table[x=t,y=b]{\tH} \closedcycle;
\addplot[kpl] table[x=t,y=k]{\tH};
\addplot[bpl] table[x=t,y=b]{\tH};
\end{axis}
\begin{axis}[chrom, at={(536.5pt,-543.3pt)}, xmin=45.69, xmax=47.52,
  xtick={46,46.5,47}, xticklabels={46.0,46.5,47.0}]
\addplot[pf, restrict x to domain=46.44:46.62] table[x=t,y=b]{\tI} \closedcycle;
\addplot[hb, restrict x to domain=46.62:46.80] table[x=t,y=k]{\tI} \closedcycle;
\addplot[hp, restrict x to domain=46.62:46.80] table[x=t,y=k]{\tI} \closedcycle;
\addplot[hb, restrict x to domain=47.09:47.28] table[x=t,y=k]{\tI} \closedcycle;
\addplot[hp, restrict x to domain=47.09:47.28] table[x=t,y=k]{\tI} \closedcycle;
\addplot[kpl] table[x=t,y=k]{\tI};
\addplot[bpl] table[x=t,y=b]{\tI};
\end{axis}
\begin{axis}[chrom, at={(774pt,-543.3pt)}, xmin=45.80, xmax=47.73,
  xtick={46,46.5,47,47.5}, xticklabels={46.0,46.5,47.0,47.5}]
\addplot[hb, restrict x to domain=46.39:46.59] table[x=t,y=k]{\tJ} \closedcycle;
\addplot[hp, restrict x to domain=46.39:46.59] table[x=t,y=k]{\tJ} \closedcycle;
\addplot[pf, restrict x to domain=46.59:46.78] table[x=t,y=b]{\tJ} \closedcycle;
\addplot[hb, restrict x to domain=47.02:47.22] table[x=t,y=k]{\tJ} \closedcycle;
\addplot[hp, restrict x to domain=47.02:47.22] table[x=t,y=k]{\tJ} \closedcycle;
\addplot[kpl] table[x=t,y=k]{\tJ};
\addplot[bpl] table[x=t,y=b]{\tJ};
\end{axis}
\begin{axis}[chrom, at={(1013pt,-543.3pt)}, xmin=46.27, xmax=48.27,
  xtick={46.5,47,47.5,48}, xticklabels={46.5,47.0,47.5,48.0}]
\addplot[hb, restrict x to domain=46.37:46.79] table[x=t,y=k]{\tK} \closedcycle;
\addplot[hp, restrict x to domain=46.37:46.79] table[x=t,y=k]{\tK} \closedcycle;
\addplot[pf, restrict x to domain=47.06:47.26] table[x=t,y=b]{\tK} \closedcycle;
\addplot[kpl] table[x=t,y=k]{\tK};
\addplot[bpl] table[x=t,y=b]{\tK};
\end{axis}
\begin{axis}[chrom, at={(1250pt,-543.3pt)}, xmin=46.83, xmax=48.85,
  xtick={47,47.5,48,48.5}, xticklabels={47.0,47.5,48.0,48.5}]
\addplot[pf, restrict x to domain=47.62:47.86] table[x=t,y=b]{\tL} \closedcycle;
\addplot[kpl] table[x=t,y=k]{\tL};
\addplot[bpl] table[x=t,y=b]{\tL};
\end{axis}

% ================= ROW 3 =================
\begin{axis}[chrom, at={(63pt,-841.7pt)}, xmin=49.51, xmax=51.54,
  xtick={50,50.5,51}, xticklabels={50.0,50.5,51.0}]
\addplot[pf, restrict x to domain=50.34:50.54] table[x=t,y=b]{\tM} \closedcycle;
\addplot[kpl] table[x=t,y=k]{\tM};
\addplot[bpl] table[x=t,y=b]{\tM};
\end{axis}
\begin{axis}[chrom, at={(301pt,-841.7pt)}, xmin=51.57, xmax=52.94,
  xtick={51.8,52.2,52.6}, xticklabels={51.8,52.2,52.6}]
\addplot[pf, restrict x to domain=52.10:52.31] table[x=t,y=b]{\tN} \closedcycle;
\addplot[kpl] table[x=t,y=k]{\tN};
\addplot[bpl] table[x=t,y=b]{\tN};
\end{axis}
\begin{axis}[chrom, at={(536.5pt,-841.7pt)}, xmin=52.386, xmax=53.80,
  xtick={52.6,53,53.4}, xticklabels={52.6,53.0,53.4}]
\addplot[pf, restrict x to domain=52.93:53.16] table[x=t,y=b]{\tO} \closedcycle;
\addplot[kpl] table[x=t,y=k]{\tO};
\addplot[bpl] table[x=t,y=b]{\tO};
\end{axis}
\begin{axis}[chrom, at={(774pt,-841.7pt)}, xmin=55.475, xmax=57.52,
  xtick={56,56.5,57}, xticklabels={56.0,56.5,57.0}]
\addplot[pf, restrict x to domain=56.34:56.55] table[x=t,y=b]{\tP} \closedcycle;
\addplot[kpl] table[x=t,y=k]{\tP};
\addplot[bpl] table[x=t,y=b]{\tP};
\end{axis}
\begin{axis}[chrom, at={(1013pt,-841.7pt)}, xmin=55.75, xmax=57.80,
  xtick={56,56.5,57,57.5}, xticklabels={56.0,56.5,57.0,57.5}]
\addplot[pf, restrict x to domain=56.59:56.78] table[x=t,y=b]{\tQ} \closedcycle;
\addplot[kpl] table[x=t,y=k]{\tQ};
\addplot[bpl] table[x=t,y=b]{\tQ};
\end{axis}

% ================= TEXT =================
% row 1
\ptitle{70}{27}{2,3,7,8-TCDF, 0.05 pg/μL}
\ptitle{307}{27}{2,3,7,8-TCDD, 0.05 pg/μL}
\ptitle{544}{27}{1,2,3,7,8-PeCDF, 0.25 pg/μL}
\ptitle{782}{27}{2,3,4,7,8-PeCDF, 0.25 pg/μL}
\ptitle{1015}{27}{1,2,3,7,8-PeCDD, 0.25 pg/μL}
\ptitle{1238}{27}{1,2,3,4,7,8-HxCDF, 0.25 pg/μL}
\ptrans{70}{53}{70}{303.9\arr 240.9}{305.9\arr 242.9}
\ptrans{308}{53}{70}{319.9\arr 256.9}{321.9\arr 258.9}
\ptrans{543}{53}{70}{339.9\arr 276.9}{337.9\arr 274.9}
\ptrans{781}{53}{70}{339.9\arr 276.9}{337.9\arr 274.9}
\ptrans{1020}{53}{70}{355.9\arr 292.9}{353.9\arr 290.9}
\ptrans{1257}{53}{70}{373.8\arr 310.9}{375.8\arr 312.9}
\pexp{60}{55.5}\pexp{298}{55.5}\pexp{533.5}{55.5}\pexp{771}{55.5}\pexp{1010}{55.5}\pexp{1247}{55.5}
% row 2
\ptitle{70}{311}{1,2,3,6,7,8-HxCDF, 0.25 pg/μL}
\ptitle{307}{311}{2,3,4,6,7,8-HxCDF, 0.25 pg/μL}
\ptitle{543}{311}{1,2,3,4,7,8-HxCDD, 0.25 pg/μL}
\ptitle{781}{311}{1,2,3,6,7,8-HxCDD, 0.25 pg/μL}
\ptitle{1015}{311}{1,2,3,7,8,9-HxCDD, 0.25 pg/μL}
\ptitle{1239}{311}{1,2,3,7,8,9-HxCDF, 0.25 pg/μL}
\ptrans{70}{336}{354.3}{373.8\arr 310.9}{375.8\arr 312.9}
\ptrans{308}{336}{354.3}{373.8\arr 310.9}{375.8\arr 312.9}
\ptrans{543}{336}{354.3}{389.8\arr 326.9}{391.8\arr 328.8}
\ptrans{781}{336}{354.3}{389.8\arr 326.9}{391.8\arr 328.8}
\ptrans{1020}{336}{354.3}{389.8\arr 326.9}{391.8\arr 328.8}
\ptrans{1257}{336}{354.3}{373.8\arr 310.9}{375.8\arr 312.9}
\pexp{60}{349.3}\pexp{298}{349.3}\pexp{533.5}{349.3}\pexp{771}{349.3}\pexp{1010}{349.3}\pexp{1247}{349.3}
% row 3
\ptitle{70}{610.5}{1,2,3,4,6,7,8-HpCDF, 0.25 pg/μL}
\ptitle{307}{610.5}{1,2,3,4,6,7,8-HpCDD, 0.25 pg/μL}
\ptitle{543}{610.5}{1,2,3,4,7,8,9-HpCDF, 0.25 pg/μL}
\ptitle{781}{610.5}{OCDD, 0.5 pg/μL}
\ptitle{1020}{610.5}{OCDF, 0.5 pg/μL}
\ptrans{70}{635.5}{653.5}{407.8\arr 344.8}{409.8\arr 346.8}
\ptrans{308}{635.5}{653.5}{423.8\arr 360.8}{425.8\arr 362.9}
\ptrans{543}{635.5}{653.5}{407.8\arr 344.9}{409.8\arr 346.8}
\ptrans{781}{635.5}{653.5}{457.7\arr 394.8}{459.7\arr 396.8}
\ptrans{1020}{635.5}{653.5}{441.7\arr 378.8}{443.7\arr 380.8}
\pexp{60}{648.3}\pexp{298}{648.3}\pexp{533.5}{648.3}\pexp{771}{648.3}\pexp{1010}{648.3}
\end{tikzpicture}
\end{document}
